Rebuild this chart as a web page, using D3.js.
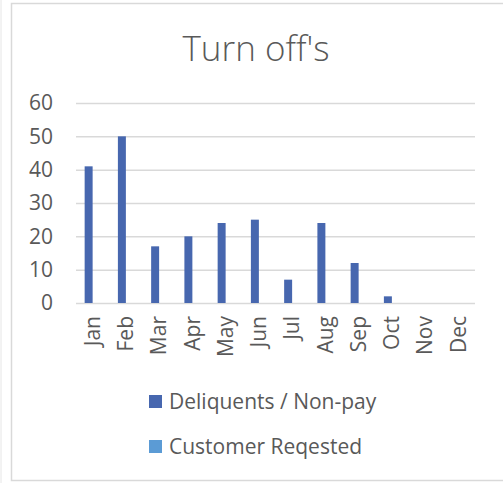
<!DOCTYPE html>
<html>
<head>
<meta charset="utf-8">
<script src="https://cdn.jsdelivr.net/npm/d3@7"></script>
<style>
  body { margin: 0; background: #fff; }
  text { font-family: "Open Sans", sans-serif; fill: #595959; }
</style>
</head>
<body>
<div id="graph"></div>
<script>
const months = ["Jan", "Feb", "Mar", "Apr", "May", "Jun", "Jul", "Aug", "Sep", "Oct", "Nov", "Dec"];
const seriesNames = ["Deliquents / Non-pay", "Customer Reqested"];
const delinquents = [41, 50, 17, 20, 24, 25, 7, 24, 12, 2, 0, 0];
const customerRequested = [0, 0, 0, 0, 0, 0, 0, 0, 0, 0, 0, 0];
const yTicks = [0, 10, 20, 30, 40, 50, 60];
const colors = ["#4767AF", "#5B9BD5"];

const graph = document.getElementById('graph');
graph.innerHTML = '<svg width="503" height="483"></svg>';
const svg = d3.select('svg');

// chart frame
svg.append("rect")
  .attr("x", 11.5).attr("y", 3.5)
  .attr("width", 500).attr("height", 477)
  .attr("fill", "none").attr("stroke", "#d9d9d9").attr("stroke-width", 1.5);
svg.append("line")
  .attr("x1", 1).attr("x2", 1).attr("y1", 0).attr("y2", 483)
  .attr("stroke", "#e6e6e6");

svg.append("text")
  .attr("x", 256).attr("y", 61)
  .attr("text-anchor", "middle")
  .attr("font-size", 35).attr("font-weight", 300)
  .text("Turn off's");

const plot = {left: 76, right: 475, top: 103, bottom: 303};

const x0 = d3.scaleBand().domain(months)
  .range([plot.left, plot.right])
  .paddingInner(0.52).paddingOuter(0.26);
const x1 = d3.scaleBand().domain(seriesNames).range([0, x0.bandwidth()]);
const y = d3.scaleLinear().domain([0, 60]).range([plot.bottom, plot.top]);

const yAxis = svg.append("g")
  .attr("transform", "translate(" + plot.left + ",0)")
  .call(d3.axisLeft(y).tickValues(yTicks).tickSize(-(plot.right - plot.left)).tickPadding(23));
yAxis.select(".domain").remove();
yAxis.selectAll(".tick line").attr("stroke", "#d9d9d9").attr("stroke-width", 1.5);
yAxis.selectAll(".tick text").attr("font-size", 21).attr("fill", "#595959")
  .attr("font-family", "Open Sans, sans-serif");

const xAxis = svg.append("g")
  .attr("transform", "translate(0," + plot.bottom + ")")
  .call(d3.axisBottom(x0).tickSize(0).tickPadding(0));
xAxis.select(".domain").remove();
xAxis.selectAll(".tick text")
  .attr("font-size", 21).attr("fill", "#595959")
  .attr("font-family", "Open Sans, sans-serif")
  .attr("transform", "rotate(-90)")
  .attr("text-anchor", "end")
  .attr("x", -13).attr("y", 0).attr("dy", "0.35em");

const rows = months.map((m, i) => ({month: m, values: [delinquents[i], customerRequested[i]]}));

svg.append("g").selectAll("g")
  .data(rows)
  .enter().append("g")
  .attr("transform", d => "translate(" + x0(d.month) + ",0)")
  .selectAll("rect")
  .data(d => d.values.map((v, k) => ({key: seriesNames[k], value: v, k: k})))
  .enter().append("rect")
  .attr("x", d => x1(d.key))
  .attr("y", d => y(d.value))
  .attr("width", x1.bandwidth())
  .attr("height", d => plot.bottom - y(d.value))
  .attr("fill", d => colors[d.k]);

const legend = svg.append("g").selectAll("g")
  .data(seriesNames)
  .enter().append("g")
  .attr("transform", (d, i) => "translate(149," + (395 + i * 45) + ")");
legend.append("rect")
  .attr("width", 13).attr("height", 13)
  .attr("fill", (d, i) => colors[i]);
legend.append("text")
  .attr("x", 20).attr("y", 14)
  .attr("font-size", 21)
  .text(d => d);
</script>
</body>
</html>
